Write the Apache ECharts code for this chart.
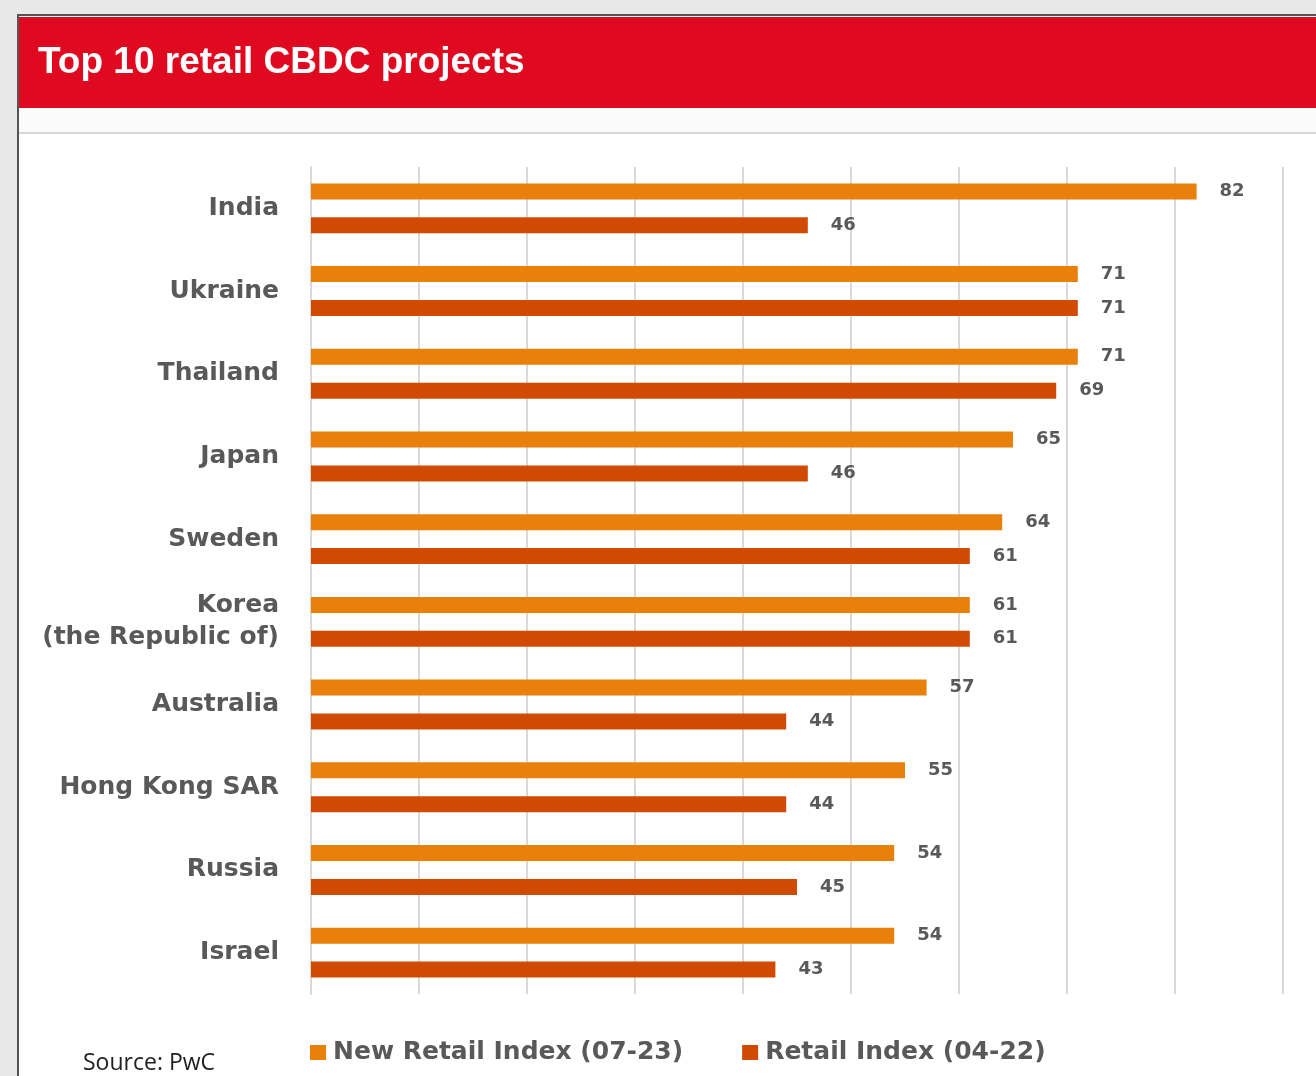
<!DOCTYPE html>
<html>
<head>
<meta charset="utf-8">
<script src="https://cdn.jsdelivr.net/npm/echarts@6/dist/echarts.min.js"></script>
<style>
html,body{margin:0;padding:0;background:#e8e8e8;}
#chart{width:1316px;height:1076px;}
</style>
</head>
<body>
<div id="chart"></div>
<script>
const categories = ["India", "Ukraine", "Thailand", "Japan", "Sweden", "Korea\n(the Republic of)", "Australia", "Hong Kong SAR", "Russia", "Israel"];
const newRetail = [82, 71, 71, 65, 64, 61, 57, 55, 54, 54];
const retail = [46, 71, 69, 46, 61, 61, 44, 44, 45, 43];
const seriesNames = ["New Retail Index (07-23)", "Retail Index (04-22)"];
const titleText = "Top 10 retail CBDC projects";
const sourceText = "Source: PwC";

const chart = echarts.init(document.getElementById('chart'), null, {renderer: 'canvas'});
const labelStyle = {
  show: true, position: 'right', distance: 23,
  fontFamily: '"DejaVu Sans"', fontWeight: 'bold', fontSize: 18, color: '#595959'
};
chart.setOption({
  backgroundColor: '#e8e8e8',
  animation: false,
  graphic: [
    {type: 'rect', z: -10, shape: {x: 18, y: 15, width: 1320, height: 1080}, style: {fill: '#ffffff', stroke: '#555', lineWidth: 2}},
    {type: 'rect', z: -9, shape: {x: 19, y: 17, width: 1320, height: 91}, style: {fill: '#E00A20'}},
    {type: 'rect', z: -9, shape: {x: 19, y: 108, width: 1320, height: 25}, style: {fill: '#fbfbfb'}},
    {type: 'line', z: -9, shape: {x1: 19, y1: 133, x2: 1316, y2: 133}, style: {stroke: '#d8d8d8', lineWidth: 2}},
    {type: 'text', left: 38, top: 44, style: {text: titleText, fill: '#ffffff', font: 'bold 37px "Liberation Sans", Arial, sans-serif'}},
    {type: 'text', left: 83, top: 1052, style: {text: sourceText, fill: '#222', font: '23px "Open Sans", sans-serif'}}
  ],
  grid: {left: 311, right: 33, top: 167, height: 827, containLabel: false},
  legend: {
    data: seriesNames, left: 305, top: 1035, itemWidth: 16, itemHeight: 15, itemGap: 59,
    icon: 'rect',
    textStyle: {fontFamily: '"DejaVu Sans"', fontWeight: 'bold', fontSize: 25, color: '#595959', padding: [0, 0, 0, 2]}
  },
  xAxis: {
    type: 'value', min: 0, max: 90, interval: 10,
    axisLabel: {show: false}, axisLine: {show: false}, axisTick: {show: false},
    splitLine: {show: true, lineStyle: {color: '#d9d9d9', width: 2}}
  },
  yAxis: {
    type: 'category', data: categories, inverse: true,
    axisLine: {show: true, lineStyle: {color: '#d9d9d9', width: 2}},
    axisTick: {show: false},
    axisLabel: {
      margin: 32, fontFamily: '"DejaVu Sans"', fontWeight: 'bold', fontSize: 25, color: '#595959',
      lineHeight: 32, align: 'right'
    }
  },
  series: [
    {name: seriesNames[0], type: 'bar', data: newRetail, barWidth: 16, barGap: '112%',
     itemStyle: {color: '#E8800A'}, label: labelStyle},
    {name: seriesNames[1], type: 'bar', data: retail, barWidth: 16,
     itemStyle: {color: '#D04A02'}, label: labelStyle}
  ]
});
</script>
</body>
</html>
